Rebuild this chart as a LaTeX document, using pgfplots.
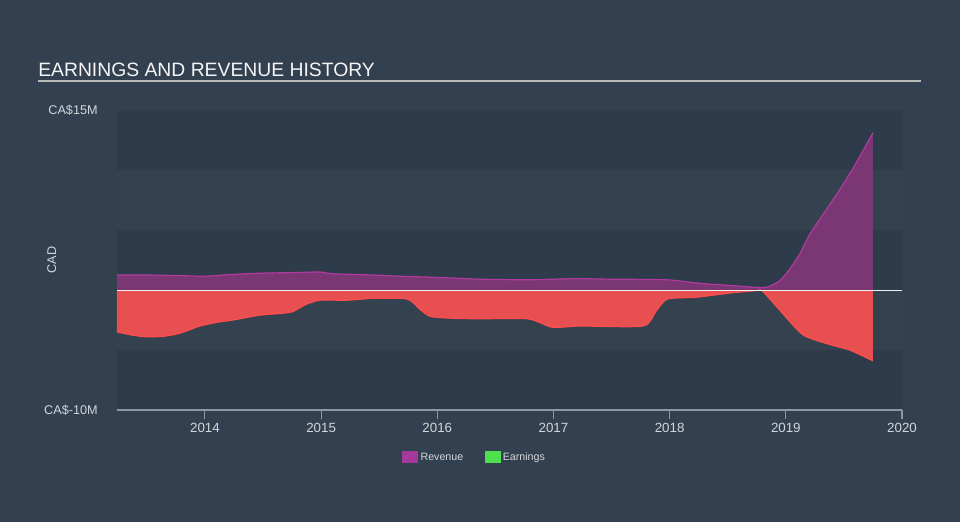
\documentclass[border=0pt]{standalone}
\usepackage{pgfplots}
\usepackage{pgfplotstable}
\pgfplotsset{compat=1.18}
\usepackage{fontspec}
\setmainfont{Liberation Sans}
\definecolor{bg}{HTML}{334050}
\definecolor{bandD}{HTML}{2E3B4A}
\definecolor{bandL}{HTML}{34424F}
\definecolor{revfill}{HTML}{7A3774}
\definecolor{revline}{HTML}{B03A9E}
\definecolor{earnfill}{HTML}{E84F51}
\definecolor{earnline}{HTML}{FF4D4D}
\definecolor{txt}{HTML}{D2D6DB}
\definecolor{axgrey}{HTML}{8C97A4}
\definecolor{legrev}{HTML}{A4399A}
\definecolor{legearn}{HTML}{4FE04F}

\pgfplotstableread{
x y
2013.243 1.25
2013.50 1.25
2013.785 1.2
2014.0 1.15
2014.24 1.3
2014.47 1.4
2014.757 1.45
2014.99 1.5
2015.1 1.35
2015.446 1.25
2015.68 1.15
2016.0 1.05
2016.37 0.9
2016.78 0.85
2017.0 0.9
2017.2 0.95
2017.5 0.9
2017.98 0.85
2018.26 0.55
2018.49 0.4
2018.78 0.2
2018.86 0.3
2018.95 0.8
2019.03 1.7
2019.12 3.0
2019.21 4.7
2019.46 8.3
2019.6 10.5
2019.75 13.1
}\revenue

\pgfplotstableread{
x y
2013.243 -3.5
2013.40 -3.8
2013.50 -3.9
2013.65 -3.85
2013.785 -3.6
2013.957 -3.0
2014.10 -2.7
2014.24 -2.5
2014.47 -2.1
2014.65 -1.95
2014.757 -1.8
2014.87 -1.2
2014.99 -0.85
2015.22 -0.85
2015.446 -0.7
2015.74 -0.75
2015.85 -1.6
2015.94 -2.2
2016.13 -2.35
2016.37 -2.4
2016.78 -2.4
2016.99 -3.1
2017.23 -3.0
2017.77 -3.0
2017.88 -1.8
2017.98 -0.75
2018.23 -0.6
2018.52 -0.25
2018.75 -0.05
2018.80 -0.1
2018.95 -1.7
2019.15 -3.75
2019.40 -4.6
2019.55 -5.0
2019.75 -5.9
}\earnings

\begin{document}
\begin{tikzpicture}
\fill[bg] (0,0) rectangle (720pt,391.5pt);
\node[anchor=base west, text=white!92!gray, font=\fontsize{14.5}{16}\selectfont, inner sep=0pt] at (28.5pt,334pt) {EARNINGS AND REVENUE HISTORY};
\draw[color=gray!55!white, line width=1.2pt] (28.5pt,330.75pt) -- (690.75pt,330.75pt);
\begin{axis}[
  at={(87.75pt,84pt)}, anchor=south west,
  scale only axis, width=588.75pt, height=225pt,
  xmin=2013.243, xmax=2020, ymin=-10, ymax=15,
  axis line style={draw=none},
  xtick={2014,2015,2016,2017,2018,2019,2020},
  xticklabels={2014,2015,2016,2017,2018,2019,2020},
  xtick pos=bottom, tick align=outside,
  major tick length=7pt,
  x tick style={draw=axgrey, line width=0.8pt},
  ytick={-10,15}, yticklabels={CA\$-10M,CA\$15M},
  y tick style={draw=none},
  yticklabel style={text=txt, font=\fontsize{9.5}{11}\selectfont, xshift=-4pt},
  xticklabel style={text=txt, font=\fontsize{10}{12}\selectfont, yshift=1pt},
  ylabel={CAD},
  every axis y label/.style={at={(axis description cs:-0.083,0.5)}, rotate=90, anchor=center, text=txt, font=\fontsize{9.5}{11}\selectfont},
  legend style={at={(axis description cs:0.456,-0.16)}, anchor=center, draw=none, fill=none, text=txt, font=\fontsize{8}{10}\selectfont, legend columns=2, /tikz/every even column/.append style={column sep=14pt}},
  legend image code/.code={\fill[#1] (0pt,-3.1pt) rectangle (11.25pt,5.1pt);},
  clip=false,
]
\fill[bandD] (axis cs:2013.243,10) rectangle (axis cs:2020,15);
\fill[bandL] (axis cs:2013.243,5) rectangle (axis cs:2020,10);
\fill[bandD] (axis cs:2013.243,0) rectangle (axis cs:2020,5);
\fill[bandL] (axis cs:2013.243,-5) rectangle (axis cs:2020,0);
\fill[bandD] (axis cs:2013.243,-10) rectangle (axis cs:2020,-5);
\addlegendimage{legrev}
\addlegendentry{Revenue}
\addlegendimage{legearn}
\addlegendentry{Earnings}
\addplot[forget plot, draw=none, fill=revfill, smooth, tension=0.4] table {\revenue} \closedcycle;
\addplot[forget plot, draw=none, fill=earnfill, smooth, tension=0.4] table {\earnings} \closedcycle;
\addplot[forget plot, revline, line width=0.9pt, smooth, tension=0.4] table {\revenue};
\addplot[forget plot, earnline, line width=0.9pt, smooth, tension=0.4] table {\earnings};
\draw[white!88!gray, line width=0.75pt] (axis cs:2013.243,0) -- (axis cs:2020,0);
\draw[axgrey, line width=0.8pt] (axis cs:2013.243,-10) -- (axis cs:2020,-10);
\end{axis}
\end{tikzpicture}
\end{document}
